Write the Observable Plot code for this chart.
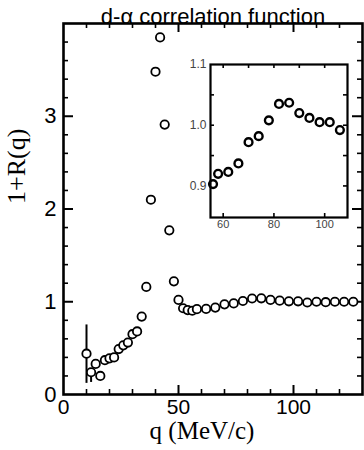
<!DOCTYPE html>
<html><head><meta charset="utf-8">
<script src="https://cdn.jsdelivr.net/npm/d3@7"></script>
<script src="https://cdn.jsdelivr.net/npm/@observablehq/plot@0.6"></script>
<style>
body{margin:0;background:#fff;}
#wrap{position:relative;width:364px;height:450px;overflow:hidden;}
#wrap svg{position:absolute;overflow:visible;}
</style></head><body><div id="wrap"></div>
<script>
// momentum q (MeV/c)
const q = [10,12,14,16,18,20,22,24,26,28,30,32,34,36,38,40,42,44,46,48,50,52,54,56,58,62,66,70,74,78,82,86,90,94,98,102,106,110,114,118,122,126];
// correlation 1+R(q)
const corr = [0.44,0.24,0.33,0.20,0.37,0.39,0.40,0.49,0.53,0.56,0.65,0.68,0.84,1.16,2.10,3.48,3.85,2.91,1.77,1.22,1.02,0.93,0.91,0.903,0.92,0.923,0.937,0.972,0.982,1.008,1.035,1.037,1.02,1.012,1.005,1.005,0.992,1.0,0.995,1.0,1.0,1.0];
// error bars
const errQ = [10,12];
const errLo = [0.12,0.13];
const errHi = [0.75,0.24];
// axes
const xTickLabels = [0,50,100];
const xMajor = [50,100];
const xMinor = [10,20,30,40,60,70,80,90,110,120];
const yTickLabels = [0,1,2,3];
const yMajor = [1,2,3];
const yMinor = [0.2,0.4,0.6,0.8,1.2,1.4,1.6,1.8,2.2,2.4,2.6,2.8,3.2,3.4,3.6,3.8];
// inset axes
const insetXLabels = [60,80,100];
const insetXTop = [60,70,80,90,100];
const insetYLabels = [0.9,1.0,1.1];
const insetYTicks = [0.9,0.95,1.0,1.05];
const insetRange = [55,109];

const data = q.map((v,i)=>({q:v, r:corr[i]}));
const errs = errQ.map((v,i)=>({q:v, lo:errLo[i], hi:errHi[i]}));

const W=364,H=450,mT=23,mB=56,mL=63,mR=2;
const iH=H-mT-mB, iW=W-mL-mR;
const sans = "Liberation Sans, Arial, Helvetica, sans-serif";
const serif = "Liberation Serif, Times New Roman, serif";

const main = Plot.plot({
  width:W, height:H, marginTop:mT, marginBottom:mB, marginLeft:mL, marginRight:mR,
  x:{domain:[0,130]}, y:{domain:[0,4]},
  style:{background:"transparent", fontFamily:sans, color:"black"},
  marks:[
    Plot.tickX(xMinor,{x:d=>d, insetTop:iH-5, stroke:"black", strokeWidth:1.6}),
    Plot.tickX(xMinor,{x:d=>d, insetBottom:iH-5, stroke:"black", strokeWidth:1.6}),
    Plot.tickX(xMajor,{x:d=>d, insetTop:iH-9, stroke:"black", strokeWidth:2}),
    Plot.tickX(xMajor,{x:d=>d, insetBottom:iH-9, stroke:"black", strokeWidth:2}),
    Plot.tickY(yMinor,{y:d=>d, insetRight:iW-5, stroke:"black", strokeWidth:1.6}),
    Plot.tickY(yMinor,{y:d=>d, insetLeft:iW-5, stroke:"black", strokeWidth:1.6}),
    Plot.tickY(yMajor,{y:d=>d, insetRight:iW-10, stroke:"black", strokeWidth:2}),
    Plot.tickY(yMajor,{y:d=>d, insetLeft:iW-10, stroke:"black", strokeWidth:2}),
    Plot.ruleX(errs,{x:"q", y1:"lo", y2:"hi", stroke:"black", strokeWidth:2}),
    Plot.dot(data,{x:"q", y:"r", r:4.2, stroke:"black", strokeWidth:1.8, fill:"white"}),
    Plot.frame({stroke:"black", strokeWidth:2.6}),
    Plot.axisX({ticks:xTickLabels, tickSize:0, tickPadding:5, fontSize:21, label:null, fill:"black", tickFormat:d3.format("d")}),
    Plot.axisY({ticks:yTickLabels, tickSize:0, tickPadding:7, fontSize:22, label:null, fill:"black", tickFormat:d3.format("d")}),
    Plot.text(["1+R(q)"],{text:d=>d, frameAnchor:"left", dx:-47, dy:-5, rotate:-90, fontSize:26, fontFamily:serif, fill:"black"}),
    Plot.text(["q (MeV/c)"],{text:d=>d, frameAnchor:"bottom", dx:-11, dy:44, fontSize:25, fontFamily:serif, fill:"black"}),
    Plot.text(["d-α correlation function"],{text:d=>d, frameAnchor:"top", dy:-15, fontSize:22, fontFamily:sans, fill:"black"})
  ]
});
main.style.left="0px"; main.style.top="0px";
document.getElementById("wrap").appendChild(main);

const iL=40,iR=4,iT=6,iB=20,insW=181,insH=179;
const iiW=insW-iL-iR, iiH=insH-iT-iB;
const inset = Plot.plot({
  width:insW, height:insH, marginLeft:iL, marginRight:iR, marginTop:iT, marginBottom:iB,
  x:{domain:insetRange}, y:{domain:[0.848,1.1]},
  style:{background:"transparent", fontFamily:sans, color:"black"},
  marks:[
    Plot.tickX(insetXLabels,{x:d=>d, insetTop:iiH-4, stroke:"black", strokeWidth:1.6}),
    Plot.tickX(insetXTop,{x:d=>d, insetBottom:iiH-4, stroke:"black", strokeWidth:1.6}),
    Plot.tickY(insetYTicks,{y:d=>d, insetRight:iiW-4, stroke:"black", strokeWidth:1.6}),
    Plot.tickY(insetYTicks,{y:d=>d, insetLeft:iiW-4, stroke:"black", strokeWidth:1.6}),
    Plot.dot(data.filter(d=>d.q>=insetRange[0] && d.q<=insetRange[1]),{x:"q", y:"r", r:3.9, stroke:"black", strokeWidth:2.4, fill:"white"}),
    Plot.frame({stroke:"black", strokeWidth:2.2}),
    Plot.axisX({ticks:insetXLabels, tickSize:0, tickPadding:3, fontSize:11, label:null, fill:"#444"}),
    Plot.axisY({ticks:insetYLabels, tickSize:0, tickPadding:4, fontSize:12, label:null, fill:"#444", tickFormat:d3.format(".1f")})
  ]
});
inset.style.left=(210-iL)+"px"; inset.style.top=(64-iT)+"px";
document.getElementById("wrap").appendChild(inset);
</script></body></html>
